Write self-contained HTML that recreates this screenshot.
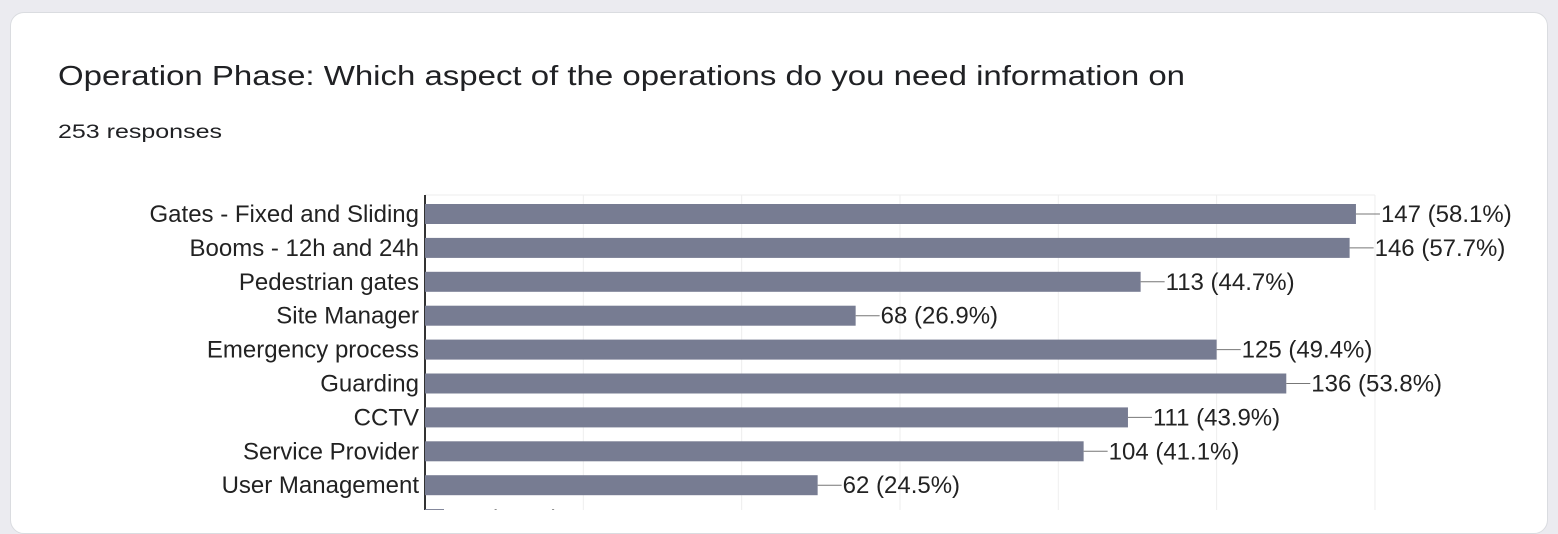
<!DOCTYPE html>
<html><head><meta charset="utf-8"><style>
body{margin:0;width:1558px;height:510px;overflow:hidden;background:#ebebf0;font-family:"Liberation Sans",sans-serif}
#card{position:absolute;left:10px;top:12px;width:1536px;height:520px;background:#fff;border:1px solid #dadce0;border-radius:14px}
</style></head><body>
<div id="card"></div>
<svg id="chart" width="1558" height="510" style="position:absolute;left:0;top:0">
<text x="58" y="85" font-size="28" fill="#202124" textLength="1127" lengthAdjust="spacingAndGlyphs">Operation Phase: Which aspect of the operations do you need information on</text>
<text x="58" y="138" font-size="19" fill="#202124" textLength="164" lengthAdjust="spacingAndGlyphs">253 responses</text>
<g id="grid"></g><g id="bars"></g>
</svg>
<script>
const categories=["Gates - Fixed and Sliding","Booms - 12h and 24h","Pedestrian gates","Site Manager","Emergency process","Guarding","CCTV","Service Provider","User Management","None"];
const values=[147,146,113,68,125,136,111,104,62,3];
const percents=["58.1%","57.7%","44.7%","26.9%","49.4%","53.8%","43.9%","41.1%","24.5%","1.2%"];
const ticks=[0,25,50,75,100,125,150];
const NS="http://www.w3.org/2000/svg";
const x0=425,pxPer=6.333,top0=195,pitch=33.9;
const xs=v=>x0+v*pxPer;
function mk(t,a,p){const e=document.createElementNS(NS,t);for(const k in a)e.setAttribute(k,a[k]);p.appendChild(e);return e;}
const g=document.getElementById('grid'),b=document.getElementById('bars');
mk('line',{x1:x0,x2:xs(150),y1:top0,y2:top0,stroke:'#eee'},g);
ticks.forEach(t=>{if(t===0)return;const l=mk('line',{x1:xs(t),x2:xs(t),y1:top0,y2:510,stroke:'#eee'},g);

});
categories.forEach((c,i)=>{
 const yt=top0+9+i*pitch, yc=yt+10;
 const lab=mk('text',{x:419,y:yc+8,'font-size':24,'text-anchor':'end',fill:'#222'},b);lab.textContent=c;
 
 
 const r=mk('rect',{x:x0,y:yt,width:values[i]*pxPer,height:20,fill:'#777c92'},b);
 
 
 const xe=xs(values[i]);
 mk('line',{x1:xe,x2:xe+24,y1:yc,y2:yc,stroke:'#777'},b);
 const vt=mk('text',{x:xe+25,y:yc+8,'font-size':24,fill:'#222'},b);vt.textContent=values[i]+" ("+percents[i]+")";
 
 
});
mk('line',{x1:x0,x2:x0,y1:top0,y2:510,stroke:'#333','stroke-width':2},g);
</script>
</body></html>
